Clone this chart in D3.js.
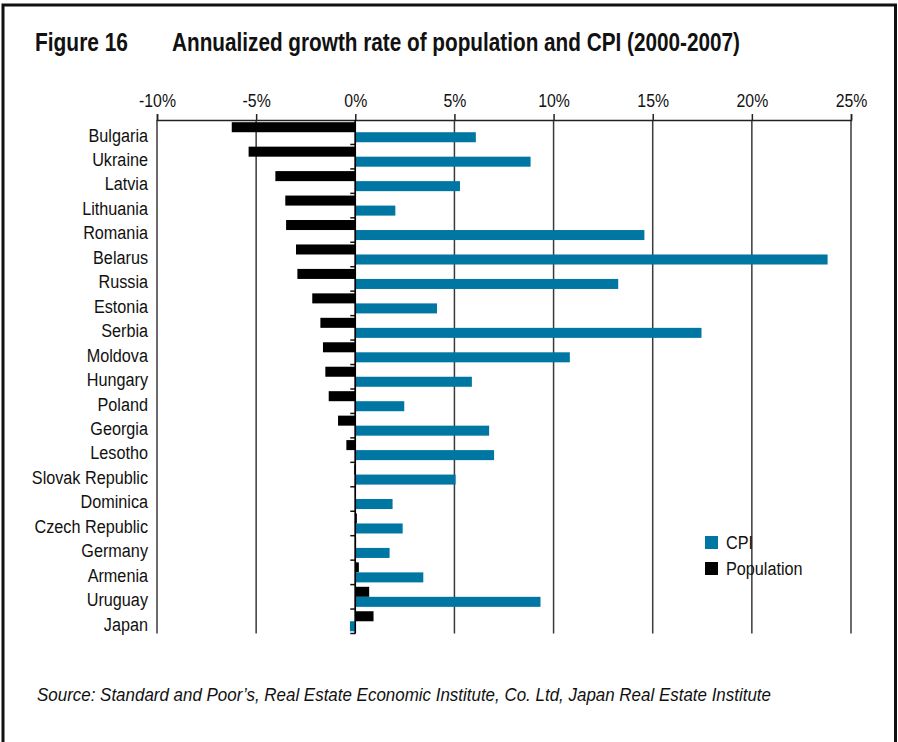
<!DOCTYPE html>
<html>
<head>
<meta charset="utf-8">
<script src="https://cdn.jsdelivr.net/npm/d3@7"></script>
<style>
  html, body { margin: 0; padding: 0; background: #fff; }
  svg { display: block; }
  text { font-family: "Liberation Sans", Arial, Helvetica, sans-serif; fill: #111; }
</style>
</head>
<body>
<svg id="chart" width="898" height="742"></svg>
<script>
// Annualized growth rates, 2000-2007 (percent)
const countries = ["Bulgaria", "Ukraine", "Latvia", "Lithuania", "Romania", "Belarus", "Russia",
  "Estonia", "Serbia", "Moldova", "Hungary", "Poland", "Georgia", "Lesotho", "Slovak Republic",
  "Dominica", "Czech Republic", "Germany", "Armenia", "Uruguay", "Japan"];
const population = [-6.23, -5.38, -4.03, -3.53, -3.49, -2.99, -2.92, -2.17, -1.76, -1.63,
  -1.51, -1.34, -0.87, -0.45, -0.05, 0.0, 0.08, 0.04, 0.18, 0.70, 0.92];
const cpi = [6.08, 8.84, 5.28, 2.02, 14.58, 23.82, 13.26, 4.12, 17.46, 10.82,
  5.88, 2.47, 6.75, 7.00, 5.06, 1.88, 2.39, 1.73, 3.43, 9.34, -0.27];
const xTicks = [-10, -5, 0, 5, 10, 15, 20, 25];
const seriesNames = ["CPI", "Population"];
const seriesColors = { CPI: "#0076a3", Population: "#000000" };

const svg = d3.select("#chart");

// Squeeze text horizontally to a condensed look
function condense(selection, factor) {
  selection.each(function () {
    const w = this.getComputedTextLength();
    if (w > 0) {
      d3.select(this).attr("textLength", w * factor).attr("lengthAdjust", "spacingAndGlyphs");
    }
  });
}
function fitWidth(selection, width) {
  selection.attr("textLength", width).attr("lengthAdjust", "spacingAndGlyphs");
}

// Frame around the figure (open at the bottom)
svg.append("path")
  .attr("d", "M3,742 V5 H895.5 V742")
  .attr("fill", "none").attr("stroke", "#111").attr("stroke-width", 3);

// Title
svg.append("text").attr("x", 35).attr("y", 51)
  .attr("font-size", 25).attr("font-weight", "bold").text("Figure 16")
  .call(fitWidth, 93);
svg.append("text").attr("x", 172).attr("y", 51)
  .attr("font-size", 25).attr("font-weight", "bold")
  .text("Annualized growth rate of population and CPI (2000-2007)")
  .call(fitWidth, 568);

const plot = { left: 157, right: 851, top: 120, bottom: 633.5 };

const x = d3.scaleLinear().domain([-10, 25]).range([plot.left, plot.right]);
const y = d3.scaleBand().domain(countries).range([plot.top, plot.bottom])
  .paddingInner(0.18).paddingOuter(0.09);
const sub = d3.scaleBand().domain(["Population", "CPI"]).range([0, y.bandwidth()]);

// Vertical gridlines
svg.append("g").selectAll("line").data(xTicks).join("line")
  .attr("x1", d => x(d)).attr("x2", d => x(d))
  .attr("y1", plot.top).attr("y2", plot.bottom)
  .attr("stroke", "#3a3a3a").attr("stroke-width", 1.5);

// Top axis
const xAxis = d3.axisTop(x).tickValues(xTicks)
  .tickFormat(d => d + "%").tickSize(6).tickPadding(7);
const gx = svg.append("g").attr("transform", `translate(0,${plot.top})`).call(xAxis);
gx.select(".domain").attr("stroke", "#222").attr("stroke-width", 1.5);
gx.selectAll(".tick line").attr("stroke", "#222").attr("stroke-width", 1.5);
gx.selectAll(".tick text").attr("font-size", 18)
  .attr("font-family", "\"Liberation Sans\", Arial, sans-serif")
  .attr("fill", "#111")
  .call(condense, 0.88);

// Bars
const rows = svg.append("g").selectAll("g").data(countries).join("g")
  .attr("transform", d => `translate(0,${y(d)})`);
rows.append("rect")
  .attr("x", (d, i) => x(Math.min(0, population[i])))
  .attr("width", (d, i) => Math.abs(x(population[i]) - x(0)))
  .attr("y", sub("Population")).attr("height", sub.bandwidth())
  .attr("fill", seriesColors.Population);
rows.append("rect")
  .attr("x", (d, i) => x(Math.min(0, cpi[i])))
  .attr("width", (d, i) => Math.abs(x(cpi[i]) - x(0)))
  .attr("y", sub("CPI")).attr("height", sub.bandwidth())
  .attr("fill", seriesColors.CPI);

// Category axis on the zero line
const yBoundary = d3.scaleLinear().domain([0, countries.length]).range([plot.top, plot.bottom]);
svg.append("line")
  .attr("x1", x(0)).attr("x2", x(0)).attr("y1", plot.top).attr("y2", plot.bottom)
  .attr("stroke", "#000").attr("stroke-width", 1.5);
svg.append("g").selectAll("line").data(d3.range(1, countries.length + 1)).join("line")
  .attr("x1", x(0) - 5).attr("x2", x(0))
  .attr("y1", d => yBoundary(d)).attr("y2", d => yBoundary(d))
  .attr("stroke", "#111").attr("stroke-width", 1.5);

// Category labels
svg.append("g").selectAll("text").data(countries).join("text")
  .attr("x", 148).attr("y", d => y(d) + y.bandwidth() / 2 + 3)
  .attr("dy", "0.35em").attr("text-anchor", "end").attr("font-size", 18)
  .text(d => d)
  .call(condense, 0.9);

// Legend
const legend = svg.append("g").attr("transform", "translate(705,536)");
seriesNames.forEach((name, i) => {
  const g = legend.append("g").attr("transform", `translate(0,${i * 26})`);
  g.append("rect").attr("width", 13).attr("height", 13).attr("fill", seriesColors[name]);
  g.append("text").attr("x", 21).attr("y", 7).attr("dy", "0.35em")
    .attr("font-size", 18).text(name)
    .call(condense, 0.9);
});

// Source note
svg.append("text").attr("x", 37).attr("y", 701)
  .attr("font-size", 17.5).attr("font-style", "italic")
  .text("Source: Standard and Poor\u2019s, Real Estate Economic Institute, Co. Ltd, Japan Real Estate Institute")
  .call(fitWidth, 734);
</script>
</body>
</html>
